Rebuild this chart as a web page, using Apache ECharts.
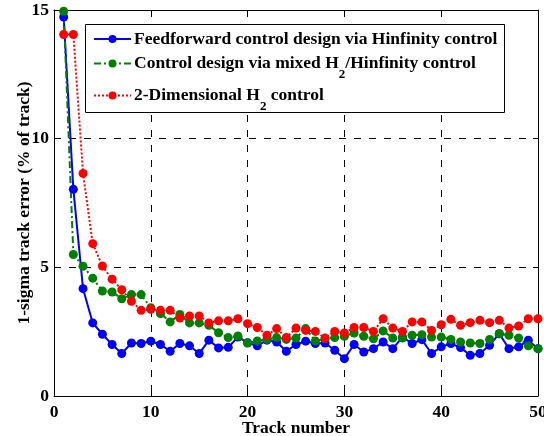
<!DOCTYPE html>
<html>
<head>
<meta charset="utf-8">
<script src="https://cdn.jsdelivr.net/npm/echarts@6/dist/echarts.min.js"></script>
<style>
  html, body { margin: 0; padding: 0; background: #fff; }
  #chart { width: 544px; height: 436px; }
</style>
</head>
<body>
<div id="chart"></div>
<script>
// Track numbers 1..50
const tracks = [
  1, 2, 3, 4, 5, 6, 7, 8, 9, 10,
  11, 12, 13, 14, 15, 16, 17, 18, 19, 20,
  21, 22, 23, 24, 25, 26, 27, 28, 29, 30,
  31, 32, 33, 34, 35, 36, 37, 38, 39, 40,
  41, 42, 43, 44, 45, 46, 47, 48, 49, 50
];

// 1-sigma track error (% of track) per design
const feedforwardHinf = [
  14.73, 8.03, 4.17, 2.84, 2.40, 2.00, 1.65, 2.06, 2.04, 2.13,
  2.00, 1.74, 2.04, 1.95, 1.65, 2.17, 1.87, 1.89, 2.29, 2.07,
  1.95, 2.17, 2.10, 1.74, 2.00, 2.13, 2.04, 2.06, 1.78, 1.45,
  2.00, 1.71, 1.84, 2.10, 1.84, 2.29, 2.04, 2.19, 1.65, 1.91,
  2.04, 1.88, 1.58, 1.65, 1.97, 2.42, 1.84, 1.91, 2.17, 1.84
];

const mixedH2Hinf = [
  14.95, 5.50, 5.04, 4.58, 4.08, 4.04, 3.78, 3.94, 3.94, 3.43,
  3.20, 2.88, 3.17, 2.84, 2.84, 2.75, 2.46, 2.27, 2.33, 2.06,
  2.14, 2.20, 2.27, 2.20, 2.25, 2.62, 2.14, 2.22, 2.27, 2.32,
  2.45, 2.32, 2.22, 2.53, 2.25, 2.25, 2.36, 2.38, 2.29, 2.29,
  2.20, 2.10, 2.06, 2.04, 2.20, 2.42, 2.36, 2.25, 1.95, 1.84
];

const twoDimH2 = [
  14.05, 14.05, 8.65, 5.92, 5.05, 4.54, 4.13, 3.68, 3.33, 3.37,
  3.33, 3.33, 3.03, 3.11, 3.11, 2.84, 2.92, 2.92, 3.00, 2.81,
  2.66, 2.36, 2.62, 2.27, 2.64, 2.55, 2.51, 2.25, 2.51, 2.45,
  2.66, 2.66, 2.51, 3.00, 2.64, 2.51, 2.88, 2.88, 2.55, 2.77,
  2.98, 2.75, 2.85, 2.94, 2.85, 2.94, 2.64, 2.72, 3.00, 3.00
];

// Series names and their legend captions (with H2 subscripts)
const seriesNames = [
  'Feedforward control design via Hinfinity control',
  'Control design via mixed H2/Hinfinity control',
  '2-Dimensional H2 control'
];
const legendCaptions = [
  '{t|Feedforward control design via Hinfinity control}',
  '{t|Control design via mixed H}{s|2}{t|/Hinfinity control}',
  '{t|2-Dimensional H}{s|2}{t| control}'
];

const FONT = "'Liberation Serif', 'Times New Roman', serif";
const FS = 17.5;

function pairs(values) {
  return tracks.map((t, i) => [t, values[i]]);
}

const chart = echarts.init(document.getElementById('chart'), null, { renderer: 'canvas' });

const axisText = { color: '#000', fontFamily: FONT, fontWeight: 'bold', fontSize: FS };
const gridDash = { color: '#000', width: 1, type: [7, 8] };

function legendRow(i, top) {
  return {
    data: [seriesNames[i]],
    left: 93,
    top: top,
    orient: 'vertical',
    padding: 0,
    itemWidth: 37,
    itemHeight: 10,
    selectedMode: false,
    z: 5,
    formatter: () => legendCaptions[i],
    textStyle: {
      color: '#000',
      padding: [0, 0, 0, -2],
      rich: {
        t: { fontFamily: FONT, fontWeight: 'bold', fontSize: FS, color: '#000', lineHeight: 20 },
        s: { fontFamily: FONT, fontWeight: 'bold', fontSize: 13, color: '#000', padding: [22, 0, 0, 0] }
      }
    }
  };
}

const option = {
  backgroundColor: '#fff',
  animation: false,
  grid: { left: 54, right: 6, top: 10, bottom: 40, containLabel: false, outerBoundsMode: 'none' },
  xAxis: [
    {
      type: 'value', min: 0, max: 50, interval: 10, position: 'bottom',
      name: 'Track number', nameLocation: 'middle', nameGap: 23, nameMoveOverlap: false,
      nameTextStyle: axisText,
      axisLine: { show: true, onZero: false, lineStyle: { color: '#000', width: 1 } },
      axisTick: { show: true, inside: true, length: 5, lineStyle: { color: '#000' } },
      axisLabel: Object.assign({ margin: 7 }, axisText),
      splitLine: { show: true, showMinLine: false, showMaxLine: false, lineStyle: gridDash }
    },
    {
      type: 'value', min: 0, max: 50, interval: 10, position: 'top',
      axisLine: { show: true, onZero: false, lineStyle: { color: '#000', width: 1 } },
      axisTick: { show: true, inside: true, length: 5, lineStyle: { color: '#000' } },
      axisLabel: { show: false },
      splitLine: { show: false }
    }
  ],
  yAxis: [
    {
      type: 'value', min: 0, max: 15, interval: 5, position: 'left',
      name: '1-sigma track error (% of track)', nameLocation: 'middle', nameGap: 21, nameMoveOverlap: false,
      nameTextStyle: axisText,
      axisLine: { show: true, onZero: false, lineStyle: { color: '#000', width: 1 } },
      axisTick: { show: true, inside: true, length: 5, lineStyle: { color: '#000' } },
      axisLabel: Object.assign({ margin: 5 }, axisText),
      splitLine: { show: true, showMinLine: false, showMaxLine: false, lineStyle: gridDash }
    },
    {
      type: 'value', min: 0, max: 15, interval: 5, position: 'right',
      axisLine: { show: true, onZero: false, lineStyle: { color: '#000', width: 1 } },
      axisTick: { show: true, inside: true, length: 5, lineStyle: { color: '#000' } },
      axisLabel: { show: false },
      splitLine: { show: false }
    }
  ],
  legend: [legendRow(0, 30), legendRow(1, 54.5), legendRow(2, 86.5)],
  graphic: [
    {
      type: 'rect', left: 85, top: 24, z: 3,
      shape: { width: 419, height: 88 },
      style: { fill: '#fff', stroke: '#000', lineWidth: 1 }
    }
  ],
  series: [
    {
      name: seriesNames[0], type: 'line', data: pairs(feedforwardHinf),
      symbol: 'circle', symbolSize: 9, z: 2,
      lineStyle: { color: '#0000ff', width: 2, type: 'solid' },
      itemStyle: { color: '#0000ff' }
    },
    {
      name: seriesNames[1], type: 'line', data: pairs(mixedH2Hinf),
      symbol: 'circle', symbolSize: 9, z: 2,
      lineStyle: { color: '#008000', width: 2, type: [7, 3, 2, 3] },
      itemStyle: { color: '#008000' }
    },
    {
      name: seriesNames[2], type: 'line', data: pairs(twoDimH2),
      symbol: 'circle', symbolSize: 9, z: 2,
      lineStyle: { color: '#ff0000', width: 2, type: [2, 2] },
      itemStyle: { color: '#ff0000' }
    }
  ]
};

chart.setOption(option);
</script>
</body>
</html>
